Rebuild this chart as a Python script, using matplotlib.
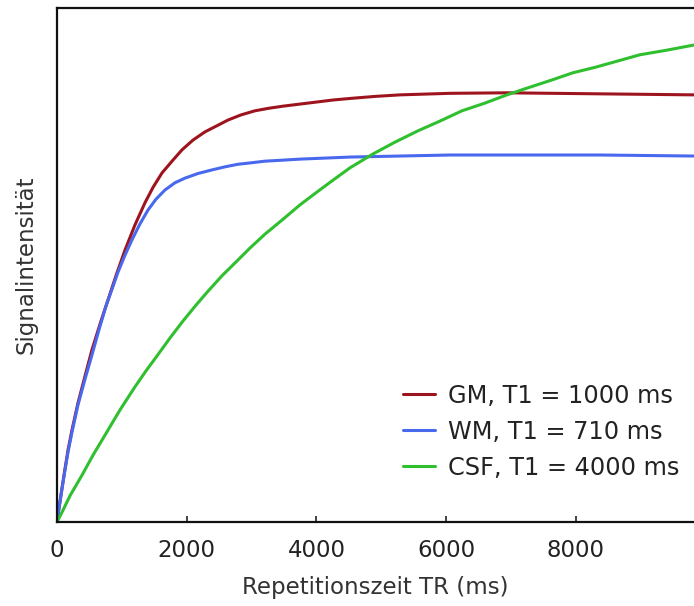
import matplotlib
matplotlib.use("Agg")
import matplotlib.pyplot as plt

# Repetition time TR (ms) and relative signal intensity for each tissue
gm_tr = [0, 31, 77, 123, 170, 231, 324, 432, 539, 663, 786, 909, 1048, 1202,
         1356, 1480, 1618, 1773, 1927, 2096, 2281, 2451, 2636, 2836, 3052,
         3268, 3484, 3869, 4254, 4516, 4902, 5287, 6058, 6936, 8370, 9820]
gm_sig = [0.000, 0.027, 0.066, 0.103, 0.140, 0.179, 0.232, 0.284, 0.335,
          0.385, 0.432, 0.479, 0.529, 0.578, 0.621, 0.651, 0.679, 0.702,
          0.724, 0.743, 0.759, 0.770, 0.782, 0.792, 0.800, 0.805, 0.809,
          0.815, 0.821, 0.824, 0.828, 0.831, 0.834, 0.835, 0.833, 0.831]

wm_tr = [0, 31, 77, 123, 170, 231, 324, 432, 539, 647, 755, 848, 940, 1048,
         1156, 1279, 1403, 1526, 1665, 1819, 1973, 2173, 2389, 2590, 2790,
         3006, 3206, 3484, 3746, 4131, 4516, 5287, 6058, 6936, 8370, 9820]
wm_sig = [0.000, 0.027, 0.064, 0.101, 0.136, 0.175, 0.228, 0.278, 0.325,
          0.374, 0.420, 0.453, 0.486, 0.519, 0.549, 0.580, 0.607, 0.628,
          0.646, 0.660, 0.669, 0.678, 0.685, 0.691, 0.696, 0.699, 0.702,
          0.704, 0.706, 0.708, 0.710, 0.712, 0.714, 0.714, 0.714, 0.712]

csf_tr = [0, 77, 200, 385, 555, 740, 971, 1202, 1372, 1541, 1742, 1942,
          2143, 2328, 2543, 2744, 2975, 3206, 3484, 3746, 4008, 4254, 4516,
          4871, 5210, 5564, 5904, 6243, 6597, 6936, 7291, 7630, 7954, 8308,
          8647, 8986, 9403, 9820]
csf_sig = [0.000, 0.019, 0.051, 0.091, 0.130, 0.169, 0.218, 0.263, 0.294,
           0.323, 0.358, 0.391, 0.422, 0.449, 0.479, 0.504, 0.533, 0.560,
           0.589, 0.617, 0.642, 0.665, 0.689, 0.716, 0.739, 0.761, 0.780,
           0.800, 0.815, 0.831, 0.846, 0.860, 0.874, 0.885, 0.897, 0.909,
           0.918, 0.928]

labels = ["GM, T1 = 1000 ms", "WM, T1 = 710 ms", "CSF, T1 = 4000 ms"]
colors = ["#9e141e", "#4868ee", "#2fbf2f"]
xticks = [0, 2000, 4000, 6000, 8000]

plt.rcParams["font.family"] = ["DejaVu Sans"]
fig = plt.figure(figsize=(6.94, 6.06), dpi=100)
ax = fig.add_axes([57 / 694, 1 - 522 / 606, 637 / 694, 514 / 606])

for tr, sig, lab, col in zip([gm_tr, wm_tr, csf_tr], [gm_sig, wm_sig, csf_sig],
                             labels, colors):
    ax.plot(tr, sig, color=col, lw=2.2, label=lab,
            solid_capstyle="round", solid_joinstyle="round")

ax.set_xlim(0, 9820)
ax.set_ylim(0, 1)
ax.set_xticks(xticks)
ax.set_yticks([])
ax.tick_params(axis="x", direction="in", length=4, width=1.2,
               labelsize=16.5, pad=12, colors="#222222")
for side in ("left", "bottom", "top"):
    ax.spines[side].set_linewidth(1.6)
    ax.spines[side].set_color("#111111")
ax.spines["right"].set_visible(False)

ax.set_xlabel("Repetitionszeit TR (ms)", fontsize=16.5, color="#333333",
              labelpad=10)
ax.set_ylabel("Signalintensität", fontsize=16.5, color="#333333", labelpad=14)

leg = ax.legend(loc="lower right", bbox_to_anchor=(1.0, 0.054),
                frameon=False, fontsize=17.3, handlelength=1.35,
                handletextpad=0.55, labelspacing=0.5, borderaxespad=0.2)
for t in leg.get_texts():
    t.set_color("#222222")

fig.savefig("out.png", dpi=100)
